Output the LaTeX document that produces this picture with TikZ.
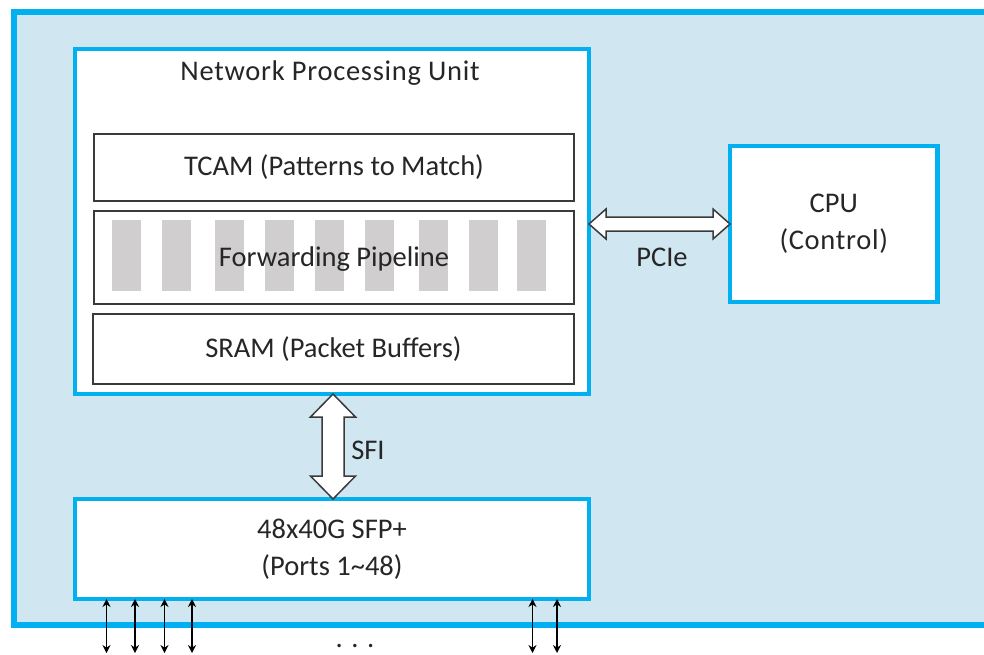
\documentclass[tikz,border=0pt]{standalone}
\usepackage{fontspec}
\setmainfont{Carlito}
\usetikzlibrary{calc,arrows.meta}
\definecolor{bblue}{HTML}{00B0F0}
\definecolor{bgblue}{HTML}{D0E6F0}
\definecolor{txt}{HTML}{262626}
\definecolor{barcol}{HTML}{D0CECE}
\definecolor{edgecol}{HTML}{3A3A3A}
\begin{document}
\begin{tikzpicture}[x=1pt,y=-1pt,
  every node/.style={font=\fontsize{28.5}{37}\selectfont, text=txt},
  bluebox/.style={draw=bblue, line width=4.5pt, fill=white, inner sep=0pt, outer sep=0pt, align=center},
  innerbox/.style={draw=edgecol, line width=1.5pt, fill=white, inner sep=0pt, outer sep=0pt},
  stagebar/.style={fill=barcol, draw=none},
  fatarrow/.style={draw=edgecol, line width=1.5pt, fill=white, line join=miter},
  portarrow/.style={line width=1.4pt, {Stealth[length=8pt,width=8pt]}-{Stealth[length=8pt,width=8pt]}},
  lbl/.style={inner sep=0pt}]
\useasboundingbox (0,0) rectangle (984,654);
\begin{scope}
  \clip (0,0) rectangle (984,654);
  \draw[draw=bblue, line width=6pt, fill=bgblue] (14,12) rectangle (1010,625);
\end{scope}

\node[bluebox, minimum width=514pt, minimum height=345pt] (npu) at (332,221.5) {};
\node[lbl] (npulabel) at (330,73) {\addfontfeature{LetterSpace=2.5}Network Processing Unit};
\node[innerbox, minimum width=480pt, minimum height=67pt] (tcam) at (334,167.5) {TCAM (Patterns to Match)};
\node[innerbox, minimum width=480pt, minimum height=93pt] (pipe) at (334,257.5) {};
\foreach \bx in {112,162,214.5,264.5,315,365,419,469,516.5}
  \fill[stagebar] (\bx,220) rectangle ++(29,71);
\node[lbl] (pipelabel) at (334,259) {Forwarding Pipeline};
\node[innerbox, minimum width=481pt, minimum height=70pt] (sram) at (333.4,349) {SRAM (Packet Buffers)};

\node[bluebox, minimum width=207.5pt, minimum height=156pt] (cpu) at (833.75,224) {CPU\\{\addfontfeature{LetterSpace=2.5}(Control)}};
\node[bluebox, minimum width=514pt, minimum height=100pt] (sfp) at (332,549) {48x40G SFP+\\(Ports 1\textasciitilde48)};

% PCIe fat arrow
\coordinate (pl) at (npu.east |- cpu.west);
\coordinate (pr) at (cpu.west);
\draw[fatarrow] (pl) -- ++(17,-15) -- ++(0,8) -- ($(pr)+(-17,-7)$) -- ++(0,-8) -- (pr)
  -- ++(-17,15) -- ++(0,-8) -- ($(pl)+(17,7)$) -- ++(0,8) -- cycle;
\node[lbl] (pcie) at (662,257) {PCIe};

% SFI fat arrow
\coordinate (st) at ($(npu.south)+(1,0)$);
\coordinate (sb) at ($(sfp.north)+(1,0)$);
\draw[fatarrow] (st) -- ++(22.5,23) -- ++(-11.5,0) -- ($(sb)+(11,-23)$) -- ++(11.5,0) -- (sb)
  -- ++(-22.5,-23) -- ++(11.5,0) -- ($(st)+(-11,23)$) -- ++(-11.5,0) -- cycle;
\node[lbl] (sfi) at (368,450) {SFI};

% ports
\foreach \i/\px in {1/106.5,2/135,3/164.5,4/192,5/532.5,6/557} {
  \coordinate (port\i) at (\px,653);
  \draw[portarrow] (sfp.south -| port\i) -- (port\i);
}
\node[lbl] (dots) at (355,646) {. . .};
\end{tikzpicture}
\end{document}
